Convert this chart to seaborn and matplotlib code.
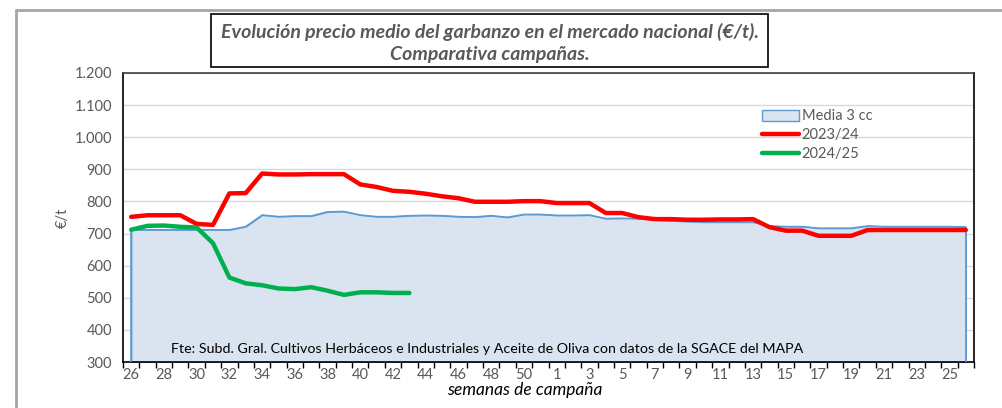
import matplotlib
matplotlib.use("Agg")
import matplotlib.pyplot as plt
import seaborn as sns
import pandas as pd
from matplotlib.patches import Patch, Rectangle
from matplotlib.lines import Line2D
from matplotlib.ticker import FuncFormatter

weeks = list(range(26, 52)) + list(range(1, 27))
media_3cc = [712, 712, 712, 712, 712, 712, 712, 722, 758, 753, 755, 755, 768, 769, 758, 753, 753, 756,
             757, 756, 753, 752, 756, 751, 760, 760, 757, 757, 758, 747, 748, 747, 743, 740, 738, 736,
             736, 736, 736, 724, 722, 722, 717, 717, 717, 724, 722, 722, 722, 722, 722, 721]
c2023_24 = [752, 757, 757, 757, 730, 727, 825, 826, 887, 884, 884, 885, 885, 885, 853, 845, 833, 830,
            824, 816, 810, 799, 799, 799, 801, 801, 795, 795, 795, 764, 764, 751, 745, 745, 743, 743,
            744, 744, 745, 720, 709, 709, 693, 693, 693, 711, 711, 711, 711, 711, 711, 711]
c2024_25 = [712, 724, 725, 721, 719, 670, 563, 545, 539, 529, 527, 533, 522, 509, 517, 517, 515, 515]

series_names = ["Media 3 cc", "2023/24", "2024/25"]
title = "Evolución precio medio del garbanzo en el mercado nacional (€/t).\nComparativa campañas."
source = "Fte: Subd. Gral. Cultivos Herbáceos e Industriales y Aceite de Oliva con datos de la SGACE del MAPA"

sns.set_theme(style="white")
plt.rcParams["font.family"] = ["Lato", "DejaVu Sans"]

GRAY = "#595959"
FILL = "#DAE3F0"
EDGE = "#5B9BD5"
RED = "#FF0000"
GREEN = "#00B050"

fig = plt.figure(figsize=(10.02, 4.08), dpi=100)
ax = fig.add_axes([123 / 1002, 46 / 408, 851 / 1002, 289 / 408])

idx = list(range(len(weeks)))
df_m = pd.DataFrame({"i": idx, "v": media_3cc})
df_r = pd.DataFrame({"i": idx, "v": c2023_24})
df_g = pd.DataFrame({"i": idx[:len(c2024_25)], "v": c2024_25})

ax.fill_between(df_m["i"], df_m["v"], 300, facecolor=FILL, edgecolor=EDGE, linewidth=1.0, zorder=2)
sns.lineplot(data=df_m, x="i", y="v", ax=ax, color=EDGE, linewidth=1.0, zorder=3)
ax.vlines([idx[0], idx[-1]], 300, [media_3cc[0], media_3cc[-1]], color=EDGE, linewidth=1.2, zorder=3)
sns.lineplot(data=df_r, x="i", y="v", ax=ax, color=RED, linewidth=3.2, zorder=4)
sns.lineplot(data=df_g, x="i", y="v", ax=ax, color=GREEN, linewidth=3.2, zorder=5)

ax.set_xlim(-0.5, len(weeks) - 0.5)
ax.set_ylim(300, 1200)
ax.set_yticks(range(300, 1201, 100))
ax.yaxis.set_major_formatter(FuncFormatter(lambda v, p: f"{int(v):,}".replace(",", ".")))
ax.grid(axis="y", color="#D9D9D9", linewidth=1.0, zorder=0)
ax.set_axisbelow(True)

ax.set_xticks(idx[::2])
ax.set_xticklabels([str(w) for w in weeks[::2]])
ax.set_xticks([i - 0.5 for i in idx] + [idx[-1] + 0.5], minor=True)
ax.tick_params(axis="x", which="major", length=0, pad=4, labelsize=10.5, labelcolor=GRAY)
ax.tick_params(axis="x", which="minor", length=4, width=1, color="black", direction="out", bottom=True)
ax.tick_params(axis="y", which="major", length=0, pad=8, labelsize=10.5, labelcolor=GRAY)

for s in ax.spines.values():
    s.set_visible(True)
    s.set_color("black")
    s.set_linewidth(1.2)
ax.spines["top"].set_color("#404040")

ax.set_xlabel("semanas de campaña", fontsize=12.5, style="italic", color="black", labelpad=-1)
ax.xaxis.set_label_coords((525 - 123) / 851, -0.07)
ax.set_ylabel("€/t", fontsize=10.5, color=GRAY, labelpad=3)

ax.text(2.45, 340, source, fontsize=10.25, color="black", va="center", ha="left", zorder=6)

handles = [Patch(facecolor=FILL, edgecolor=EDGE, linewidth=1.0),
           Line2D([0], [0], color=RED, linewidth=3.2),
           Line2D([0], [0], color=GREEN, linewidth=3.2)]
leg = fig.legend(handles, series_names, loc="upper left", bbox_to_anchor=(755 / 1002, 1 - 102 / 408),
                 frameon=False, fontsize=10.5, handlelength=2.5, handleheight=0.8,
                 labelspacing=0.33, borderpad=0, handletextpad=0.2)
for t in leg.get_texts():
    t.set_color(GRAY)

fig.patches.append(Rectangle((211 / 1002, 1 - 67 / 408), 557 / 1002, 53 / 408, transform=fig.transFigure,
                             facecolor="white", edgecolor="black", linewidth=1.2))
fig.text(490 / 1002, 1 - 43 / 408, title, ha="center", va="center", fontsize=14,
         style="italic", weight="bold", color=GRAY, linespacing=1.4)

fig.add_artist(Line2D([16 / 1002, 1], [1 - 10 / 408, 1 - 10 / 408], transform=fig.transFigure,
                      color="#A6A6A6", linewidth=2))
fig.add_artist(Line2D([16 / 1002, 16 / 1002], [0, 1 - 10 / 408], transform=fig.transFigure,
                      color="#A6A6A6", linewidth=2))

fig.savefig("out.png", dpi=100)
